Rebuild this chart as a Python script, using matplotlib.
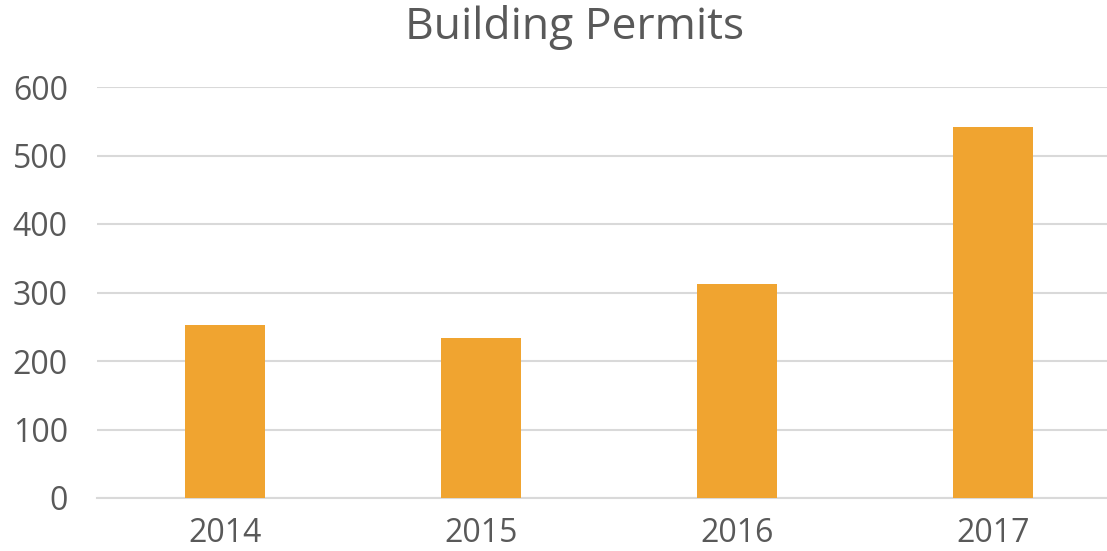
import matplotlib
matplotlib.use("Agg")
from matplotlib import pyplot as plt

years = ["2014", "2015", "2016", "2017"]
permits = [253, 234, 312, 541]
y_ticks = [0, 100, 200, 300, 400, 500, 600]

plt.rcParams['font.family'] = ['Open Sans', 'DejaVu Sans']

fig = plt.figure(figsize=(11.07, 5.51), dpi=100)
# axes placed in pixels: left 97, right 1107, bottom 498, top 87
ax = fig.add_axes([97 / 1107, 1 - 498 / 551, (1107 - 97) / 1107, (498 - 87) / 551])

pos = list(range(len(years)))
ax.bar(pos, permits, width=0.3125, color="#F0A430", zorder=3)

ax.set_xlim(-0.5, 3.445)
ax.set_ylim(0, 600)
ax.set_yticks(y_ticks)
ax.set_xticks(pos)
ax.set_xticklabels(years)

ax.yaxis.grid(True, color="#d9d9d9", linewidth=1.5, zorder=0)
ax.set_axisbelow(True)
for s in ["top", "right", "left"]:
    ax.spines[s].set_visible(False)
ax.spines["bottom"].set_color("#d9d9d9")
ax.spines["bottom"].set_linewidth(1.5)

ax.tick_params(axis="both", length=0, labelsize=23, labelcolor="#595959")
ax.tick_params(axis="y", pad=21)
ax.tick_params(axis="x", pad=14)

fig.text(0.519, 0.950, "Building Permits", ha="center", va="center", fontsize=32, color="#595959")

fig.savefig("out.png", dpi=100)
